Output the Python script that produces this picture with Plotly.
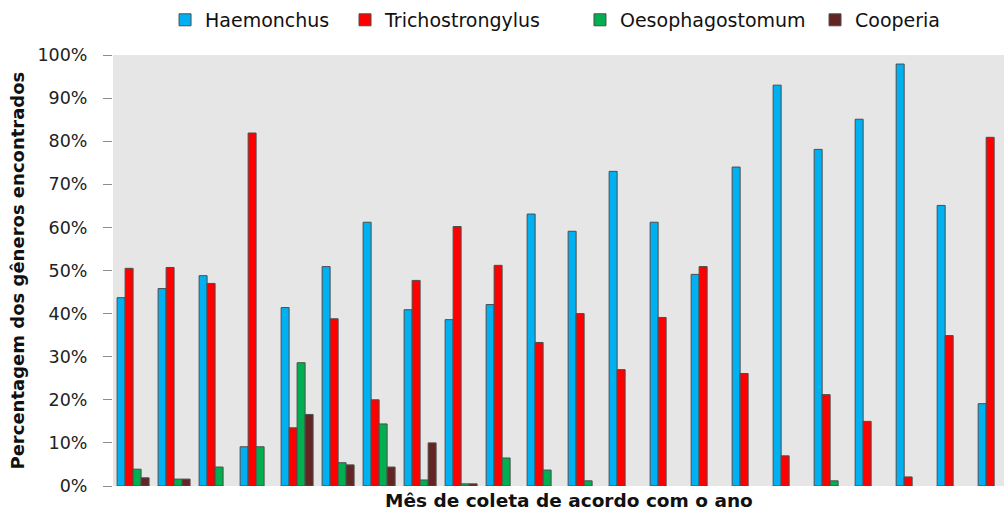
import plotly.graph_objects as go

months = list(range(1, 23))
series_names = ["Haemonchus", "Trichostrongylus", "Oesophagostomum", "Cooperia"]
haemonchus = [43.7, 45.8, 48.8, 9.1, 41.4, 50.9, 61.2, 40.9, 38.6, 42.1, 63.1,
              59.1, 73.0, 61.2, 49.1, 74.0, 93.0, 78.1, 85.1, 97.9, 65.1, 19.1]
trichostrongylus = [50.5, 50.7, 47.0, 81.9, 13.5, 38.8, 20.0, 47.7, 60.2, 51.2, 33.3,
                    40.0, 27.0, 39.1, 50.9, 26.1, 7.0, 21.2, 15.0, 2.1, 34.9, 80.9]
oesophagostomum = [3.9, 1.6, 4.4, 9.1, 28.6, 5.4, 14.4, 1.4, 0.5, 6.5, 3.7,
                   1.2, None, None, None, None, None, 1.2, None, None, None, None]
cooperia = [1.9, 1.6, None, None, 16.6, 4.9, 4.4, 10.0, 0.5, None, None,
            None, None, None, None, None, None, None, None, None, None, None]
y_ticks = [0, 10, 20, 30, 40, 50, 60, 70, 80, 90, 100]
x_title = "Mês de coleta de acordo com o ano"
y_title = "Percentagem dos gêneros encontrados"

colors = ["#00B0F0", "#FF0000", "#00B050", "#632523"]
values = [haemonchus, trichostrongylus, oesophagostomum, cooperia]
legend_ids = ["legend", "legend2", "legend3", "legend4"]
legend_x = [0.0584, 0.2604, 0.5241, 0.7879]

fig = go.Figure()
for name, vals, col, lg in zip(series_names, values, colors, legend_ids):
    fig.add_trace(go.Bar(
        x=months, y=vals, name=name, legend=lg,
        marker=dict(color=col, line=dict(color="#4D4D4D", width=1)),
    ))

font_family = "DejaVu Sans"
leg_common = dict(orientation="h", yanchor="middle", y=1.0813, xanchor="left",
                  bgcolor="rgba(0,0,0,0)", font=dict(family=font_family, size=19, color="#111"))
layout_legends = {}
for lg, lx in zip(legend_ids, legend_x):
    layout_legends[lg] = dict(leg_common, x=lx)

title_font = dict(family=font_family, size=18.5, color="#111", weight="bold")

fig.update_layout(
    width=1004, height=515,
    margin=dict(l=113, r=0, t=55, b=29, autoexpand=False),
    paper_bgcolor="white",
    plot_bgcolor="#E6E6E6",
    barmode="group",
    bargap=0.22,
    bargroupgap=0,
    showlegend=True,
    font=dict(family=font_family, size=17, color="#222"),
    xaxis=dict(
        range=[0.51, 22.24],
        showticklabels=False, ticks="", showgrid=False, zeroline=False, showline=False,
    ),
    yaxis=dict(
        range=[0, 100],
        tickvals=y_ticks, ticktext=[f"{v}%" for v in y_ticks],
        ticks="outside", ticklen=9, tickcolor="#8C8C8C", tickwidth=1,
        ticklabelstandoff=12,
        showgrid=False, zeroline=False, showline=False,
        tickfont=dict(family=font_family, size=17.5, color="#222"),
    ),
    annotations=[
        dict(text=x_title, xref="paper", yref="paper", x=0.5118, y=-0.0325,
             xanchor="center", yanchor="middle", showarrow=False, font=title_font),
        dict(text=y_title, xref="paper", yref="paper", x=-0.1077, y=0.5,
             xanchor="center", yanchor="middle", textangle=-90, showarrow=False,
             font=dict(title_font, size=18)),
    ],
    **layout_legends,
)

# remove the browser's default 8px page margin so the figure fills the window
fig.write_html("out.html", config={"displayModeBar": False},
               post_script="document.body.style.margin='0';")
